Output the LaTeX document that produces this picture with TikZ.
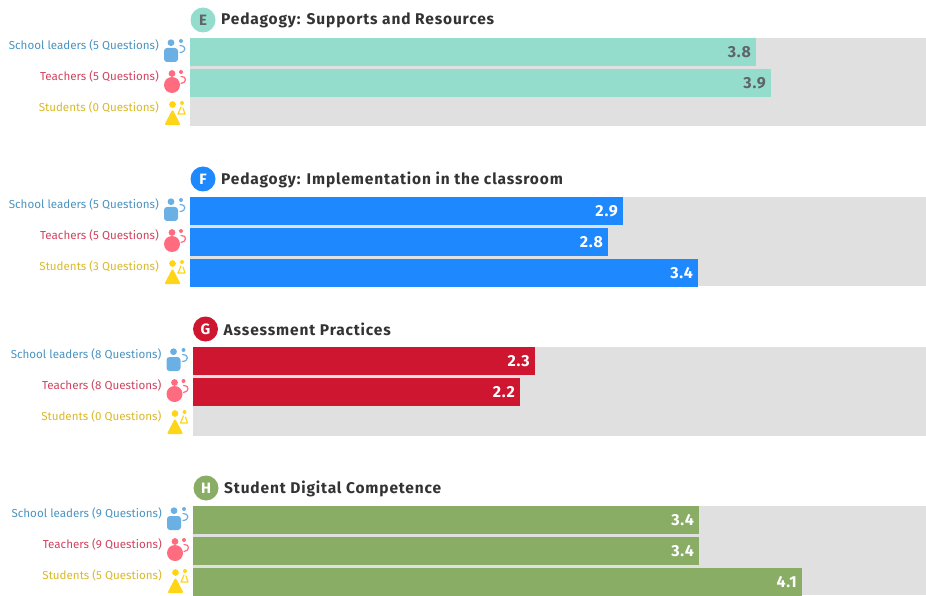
\documentclass[tikz,border=0pt]{standalone}
\usepackage{fontspec}
\setmainfont{Fira Sans}
\definecolor{barE}{HTML}{94DDCD}
\definecolor{barF}{HTML}{1E88FF}
\definecolor{barG}{HTML}{CE1630}
\definecolor{barH}{HTML}{8AAD66}
\definecolor{track}{HTML}{E0E0E0}
\definecolor{darkval}{HTML}{5F6468}
\definecolor{titlegrey}{HTML}{333333}
\definecolor{leadcol}{HTML}{6AB0E4}
\definecolor{teachcol}{HTML}{FF6B7F}
\definecolor{studcol}{HTML}{FFD617}
\definecolor{leadtxt}{HTML}{4A93C0}
\definecolor{teachtxt}{HTML}{D0435E}
\definecolor{studtxt}{HTML}{D9B92A}
\tikzset{
	rowlabel/.style={anchor=east,inner sep=0pt,font=\fontsize{11.6}{13}\selectfont},
	valtext/.style={anchor=east,inner sep=0pt,font=\fontsize{16}{18}\selectfont\bfseries\addfontfeature{LetterSpace=5}},
	headtext/.style={anchor=west,inner sep=0pt,text=titlegrey,font=\fontsize{15.5}{17}\selectfont\bfseries\addfontfeature{LetterSpace=5.5}},
	badge/.style={circle,minimum size=25pt,inner sep=0pt,font=\fontsize{15}{17}\selectfont\bfseries},
	hook/.style={line width=1.2pt,line cap=round},
	leadicon/.pic={
		\fill[leadcol] (-19,-2.3) circle (3.4);
		\fill[leadcol,rounded corners=3pt] (-26,3) rectangle (-12,17);
		\fill[leadcol] (-9,-4) circle (2);
		\draw[hook,leadcol] (-10,0.5) .. controls (-4,0) and (-3,7) .. (-10,7.5);
	},
	teachicon/.pic={
		\fill[teachcol] (-18,-2.5) circle (3.4);
		\fill[teachcol] (-18,9) circle (8);
		\fill[teachcol] (-9,-4) circle (2);
		\draw[hook,teachcol] (-9,0.5) .. controls (-3,0) and (-3,7) .. (-9,7.5);
	},
	studicon/.pic={
		\fill[studcol] (-17.5,-2.5) circle (3.4);
		\filldraw[studcol,line width=2pt] (-17.5,4.5) -- (-11,17) -- (-24,17) -- cycle;
		\fill[studcol] (-8,-4) circle (2);
		\draw[hook,studcol] (-9,0) -- (-12,7) -- (-5,7) -- (-7,1);
	}
}
\begin{document}
\begin{tikzpicture}[x=1pt,y=-1pt,line join=round]
	\useasboundingbox (0,0) rectangle (926,596);
	\foreach \id/\px/\py/\barcol/\valcol/\head/\nl/\nt/\ns/\bars in {
		E/190/38/barE/darkval/{Pedagogy: Supports and Resources}/5/5/0/{0/756/3.8,1/771/3.9},
		F/190/197/barF/white/{Pedagogy: Implementation in the classroom}/5/5/3/{0/623/2.9,1/608/2.8,2/698/3.4},
		G/192.5/347/barG/white/{Assessment Practices}/8/8/0/{0/535/2.3,1/520/2.2},
		H/193/506/barH/white/{Student Digital Competence}/9/9/5/{0/699/3.4,1/699/3.4,2/802/4.1}}{
		% grey track, then the bars on it
		\fill[track] (\px,\py) rectangle (926,\py+88.5);
		\foreach \r/\e/\v in \bars{
			\fill[\barcol] (\px,\py+30.8*\r) rectangle (\e,\py+30.8*\r+28);
			\node[valtext,text=\valcol] (val\id\r) at (\e-5,\py+30.8*\r+14) {\v};
		}
		% heading
		\node[badge,fill=\barcol,text=\valcol] (badge\id) at (\px+13,\py-18) {\id};
		\node[headtext] (title\id) at (\px+31,\py-17.2) {\head};
		% the three rows on the left
		\node[rowlabel,text=leadtxt] (lead\id) at (\px-31,\py+7.7) {School leaders (\nl{} Questions)};
		\node[rowlabel,text=teachtxt] (teach\id) at (\px-31,\py+38.7) {Teachers (\nt{} Questions)};
		\node[rowlabel,text=studtxt] (stud\id) at (\px-31,\py+69.7) {Students (\ns{} Questions)};
		\pic at (\px,\py+7) {leadicon};
		\pic at (\px,\py+38) {teachicon};
		\pic at (\px,\py+69) {studicon};
	}
\end{tikzpicture}
\end{document}
